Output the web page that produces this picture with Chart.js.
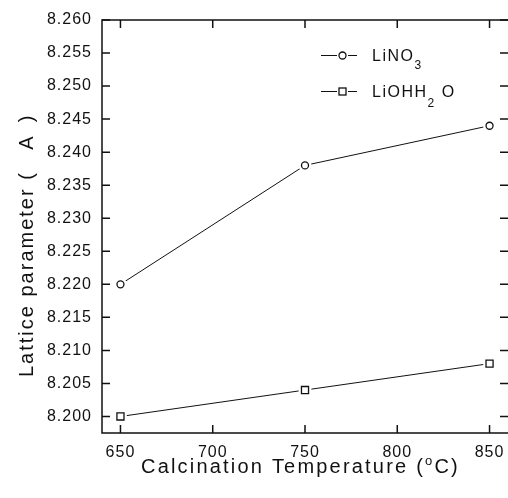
<!DOCTYPE html>
<html lang="en">
<head>
<meta charset="UTF-8">
<title>Lattice parameter vs calcination temperature</title>
<script src="https://cdn.jsdelivr.net/npm/chart.js"></script>
<style>
    html, body { margin: 0; padding: 0; background: #fff; }
    .wrap { width: 508px; height: 498px; }
</style>
</head>
<body>
<div class="wrap"><canvas id="chart"></canvas></div>
<script>
    // measured lattice parameters (Å) per calcination temperature (°C)
    const temperatures = [650, 750, 850];
    const lino3 = [8.220, 8.238, 8.244];
    const liohh2o = [8.200, 8.204, 8.208];

    const xTicks = [650, 700, 750, 800, 850];
    const yTicks = [8.200, 8.205, 8.210, 8.215, 8.220, 8.225, 8.230,
                    8.235, 8.240, 8.245, 8.250, 8.255, 8.260];

    const FONT = '"Liberation Sans", Arial, sans-serif';
    const INK = '#111';

    function points(values) {
        return temperatures.map((t, i) => ({ x: t, y: values[i] }));
    }

    // line, white halo (gap between line and marker), open marker
    function series(values, style, radius, halo) {
        const data = points(values);
        return [
            { data, showLine: true, borderColor: INK, borderWidth: 1, pointRadius: 0, order: 3 },
            { data, showLine: false, pointStyle: style, pointRadius: halo,
              pointBackgroundColor: '#fff', pointBorderColor: '#fff', pointBorderWidth: 0, order: 2 },
            { data, showLine: false, pointStyle: style, pointRadius: radius,
              pointBackgroundColor: '#fff', pointBorderColor: INK, pointBorderWidth: 1.3, order: 1 }
        ];
    }

    function drawRuns(ctx, x, baseline, runs) {
        runs.forEach(r => {
            ctx.font = r.size + 'px ' + FONT;
            x += r.dx || 0;
            ctx.fillText(r.text, x, baseline + (r.dy || 0));
            x += ctx.measureText(r.text).width;
        });
    }

    const decorations = {
        id: 'decorations',
        beforeDraw(chart) {
            chart.ctx.letterSpacing = '1px';
        },
        afterDraw(chart) {
            const { ctx, chartArea: a, scales: { x, y } } = chart;
            ctx.save();

            // frame (right edge runs off the canvas) with inward ticks
            ctx.strokeStyle = INK;
            ctx.lineWidth = 1.5;
            ctx.beginPath();
            ctx.moveTo(a.right, a.top);
            ctx.lineTo(a.left, a.top);
            ctx.lineTo(a.left, a.bottom);
            ctx.lineTo(a.right, a.bottom);
            ctx.stroke();
            const len = 8;
            ctx.beginPath();
            xTicks.forEach(v => {
                const px = x.getPixelForValue(v);
                ctx.moveTo(px, a.bottom); ctx.lineTo(px, a.bottom - len);
                ctx.moveTo(px, a.top); ctx.lineTo(px, a.top + len);
            });
            yTicks.forEach(v => {
                const py = y.getPixelForValue(v);
                ctx.moveTo(a.left, py); ctx.lineTo(a.left + len, py);
                ctx.moveTo(a.right, py); ctx.lineTo(a.right - len, py);
            });
            ctx.stroke();

            // legend
            ctx.lineWidth = 1;
            ctx.beginPath();
            ctx.moveTo(321, 55.5); ctx.lineTo(337, 55.5);
            ctx.moveTo(348, 55.5); ctx.lineTo(357, 55.5);
            ctx.moveTo(321, 91.5); ctx.lineTo(337, 91.5);
            ctx.moveTo(348, 91.5); ctx.lineTo(357, 91.5);
            ctx.stroke();
            ctx.lineWidth = 1.3;
            ctx.beginPath();
            ctx.arc(342.5, 55.5, 3.5, 0, Math.PI * 2);
            ctx.stroke();
            ctx.strokeRect(339, 88, 7, 7);

            ctx.fillStyle = INK;
            ctx.textBaseline = 'alphabetic';
            ctx.textAlign = 'left';
            ctx.letterSpacing = '1.5px';
            drawRuns(ctx, 372, 61, [
                { text: 'LiNO', size: 16 },
                { text: '3', size: 12, dy: 8 }
            ]);
            drawRuns(ctx, 372, 96.5, [
                { text: 'LiOHH', size: 16 },
                { text: '2', size: 12, dy: 10 },
                { text: 'O', size: 16, dx: 6 }
            ]);

            // axis titles
            ctx.letterSpacing = '2.2px';
            drawRuns(ctx, 141, 473, [
                { text: 'Calcination Temperature (', size: 20 },
                { text: 'o', size: 13, dy: -8 },
                { text: 'C)', size: 20 }
            ]);

            ctx.letterSpacing = '2px';
            ctx.translate(33, 377);
            ctx.rotate(-Math.PI / 2);
            ctx.font = '20px ' + FONT;
            ctx.fillText('Lattice parameter (', 0, 0);
            ctx.textAlign = 'center';
            ctx.fillText('A', 235, 0);
            ctx.fillText(')', 259, 0);

            ctx.restore();
            ctx.letterSpacing = '0px';
        }
    };

    new Chart(document.getElementById('chart'), {
        type: 'scatter',
        data: {
            datasets: [
                ...series(lino3, 'circle', 3.5, 6.5),
                ...series(liohh2o, 'rect', 5, 9)
            ]
        },
        options: {
            responsive: true,
            maintainAspectRatio: false,
            animation: false,
            events: [],
            layout: { autoPadding: false, padding: { top: 20, right: 0, bottom: 0, left: 0 } },
            plugins: {
                legend: { display: false },
                tooltip: { enabled: false }
            },
            scales: {
                x: {
                    type: 'linear',
                    min: 640,
                    max: 860,
                    grid: { display: false, drawTicks: false },
                    border: { display: false },
                    afterBuildTicks: s => { s.ticks = xTicks.map(v => ({ value: v })); },
                    afterFit: s => {
                        s.height = 65;
                        s.paddingLeft = 0;
                        s.paddingRight = 0;
                    },
                    ticks: {
                        padding: 10,
                        color: INK,
                        font: { family: FONT, size: 16 },
                        callback: v => String(v)
                    }
                },
                y: {
                    min: 8.1975,
                    max: 8.260,
                    grid: { display: false, drawTicks: false },
                    border: { display: false },
                    afterBuildTicks: s => { s.ticks = yTicks.map(v => ({ value: v })); },
                    afterFit: s => {
                        s.width = 102;
                        s.paddingTop = 0;
                        s.paddingBottom = 0;
                    },
                    ticks: {
                        padding: 10,
                        color: INK,
                        font: { family: FONT, size: 16 },
                        callback: v => v.toFixed(3)
                    }
                }
            }
        },
        plugins: [decorations]
    });
</script>
</body>
</html>
